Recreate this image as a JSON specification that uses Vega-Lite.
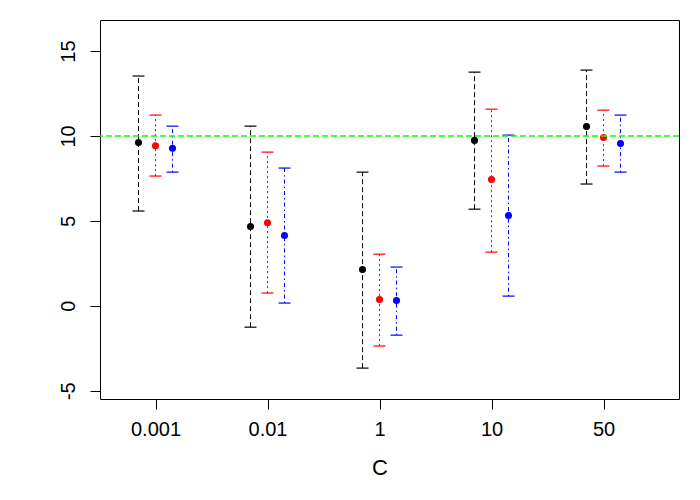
{
  "$schema": "https://vega.github.io/schema/vega-lite/v6.json",
  "autosize": {"type": "none"},
  "padding": {"left": 100, "top": 20, "right": 21, "bottom": 101},
  "width": 579,
  "height": 379,
  "background": "white",
  "data": {
    "values": [
      {"C": "0.001", "series": "black", "lo": 5.58, "mid": 9.62, "hi": 13.53},
      {"C": "0.001", "series": "red", "lo": 7.64, "mid": 9.42, "hi": 11.23},
      {"C": "0.001", "series": "blue", "lo": 7.87, "mid": 9.27, "hi": 10.58},
      {"C": "0.01", "series": "black", "lo": -1.26, "mid": 4.67, "hi": 10.58},
      {"C": "0.01", "series": "red", "lo": 0.75, "mid": 4.89, "hi": 9.05},
      {"C": "0.01", "series": "blue", "lo": 0.16, "mid": 4.14, "hi": 8.11},
      {"C": "1", "series": "black", "lo": -3.67, "mid": 2.14, "hi": 7.87},
      {"C": "1", "series": "red", "lo": -2.37, "mid": 0.37, "hi": 3.04},
      {"C": "1", "series": "blue", "lo": -1.73, "mid": 0.31, "hi": 2.28},
      {"C": "10", "series": "black", "lo": 5.69, "mid": 9.74, "hi": 13.76},
      {"C": "10", "series": "red", "lo": 3.16, "mid": 7.44, "hi": 11.58},
      {"C": "10", "series": "blue", "lo": 0.57, "mid": 5.32, "hi": 10.05},
      {"C": "50", "series": "black", "lo": 7.17, "mid": 10.56, "hi": 13.88},
      {"C": "50", "series": "red", "lo": 8.23, "mid": 9.91, "hi": 11.52},
      {"C": "50", "series": "blue", "lo": 7.87, "mid": 9.56, "hi": 11.23}
    ]
  },
  "encoding": {
    "x": {
      "field": "C",
      "type": "ordinal",
      "sort": ["0.001", "0.01", "1", "10", "50"],
      "scale": {"type": "point", "padding": 0, "range": [55.5, 503.5]},
      "title": "C",
      "axis": {"labelAngle": 0, "tickSize": 10, "labelPadding": 10, "titlePadding": 18}
    },
    "xOffset": {
      "field": "series",
      "type": "nominal",
      "scale": {"type": "point", "padding": 0, "domain": ["black", "red", "blue"], "range": [-17, 17]}
    },
    "color": {
      "field": "series",
      "type": "nominal",
      "scale": {"domain": ["black", "red", "blue"], "range": ["#000000", "#FF0000", "#0000FF"]},
      "legend": null
    }
  },
  "layer": [
    {
      "mark": {"type": "rule", "strokeWidth": 1},
      "encoding": {
        "y": {
          "field": "lo",
          "type": "quantitative",
          "scale": {"domain": [-5.49, 16.83], "nice": false, "zero": false},
          "title": null,
          "axis": {"values": [-5, 0, 5, 10, 15], "labelExpr": "'' + datum.value", "labelAngle": -90, "labelAlign": "center", "labelBaseline": "bottom", "tickSize": 10, "labelPadding": 12}
        },
        "y2": {"field": "hi"},
        "strokeDash": {
          "field": "series",
          "type": "nominal",
          "scale": {"domain": ["black", "red", "blue"], "range": [[5, 3], [2, 3], [1.5, 3, 4, 3]]},
          "legend": null
        }
      }
    },
    {
      "mark": {"type": "tick", "orient": "horizontal", "size": 12, "thickness": 1.2, "opacity": 1},
      "encoding": {"y": {"field": "lo", "type": "quantitative"}}
    },
    {
      "mark": {"type": "tick", "orient": "horizontal", "size": 12, "thickness": 1.2, "opacity": 1},
      "encoding": {"y": {"field": "hi", "type": "quantitative"}}
    },
    {
      "mark": {"type": "point", "filled": true, "size": 50, "opacity": 1},
      "encoding": {"y": {"field": "mid", "type": "quantitative"}}
    },
    {
      "data": {"values": [{"ref": 10}]},
      "mark": {"type": "rule", "color": "#00FF00", "strokeWidth": 1.3, "strokeDash": [6, 3]},
      "encoding": {
        "y": {"field": "ref", "type": "quantitative"},
        "x": null,
        "xOffset": null,
        "color": null
      }
    }
  ],
  "config": {
    "view": {"stroke": "#000000", "strokeWidth": 1},
    "axis": {
      "grid": false,
      "domain": false,
      "tickColor": "#000000",
      "tickWidth": 1,
      "labelColor": "#000000",
      "labelFont": "Liberation Sans",
      "labelFontSize": 20,
      "titleFont": "Liberation Sans",
      "titleFontSize": 22,
      "titleFontWeight": "normal",
      "titleColor": "#000000"
    }
  }
}
